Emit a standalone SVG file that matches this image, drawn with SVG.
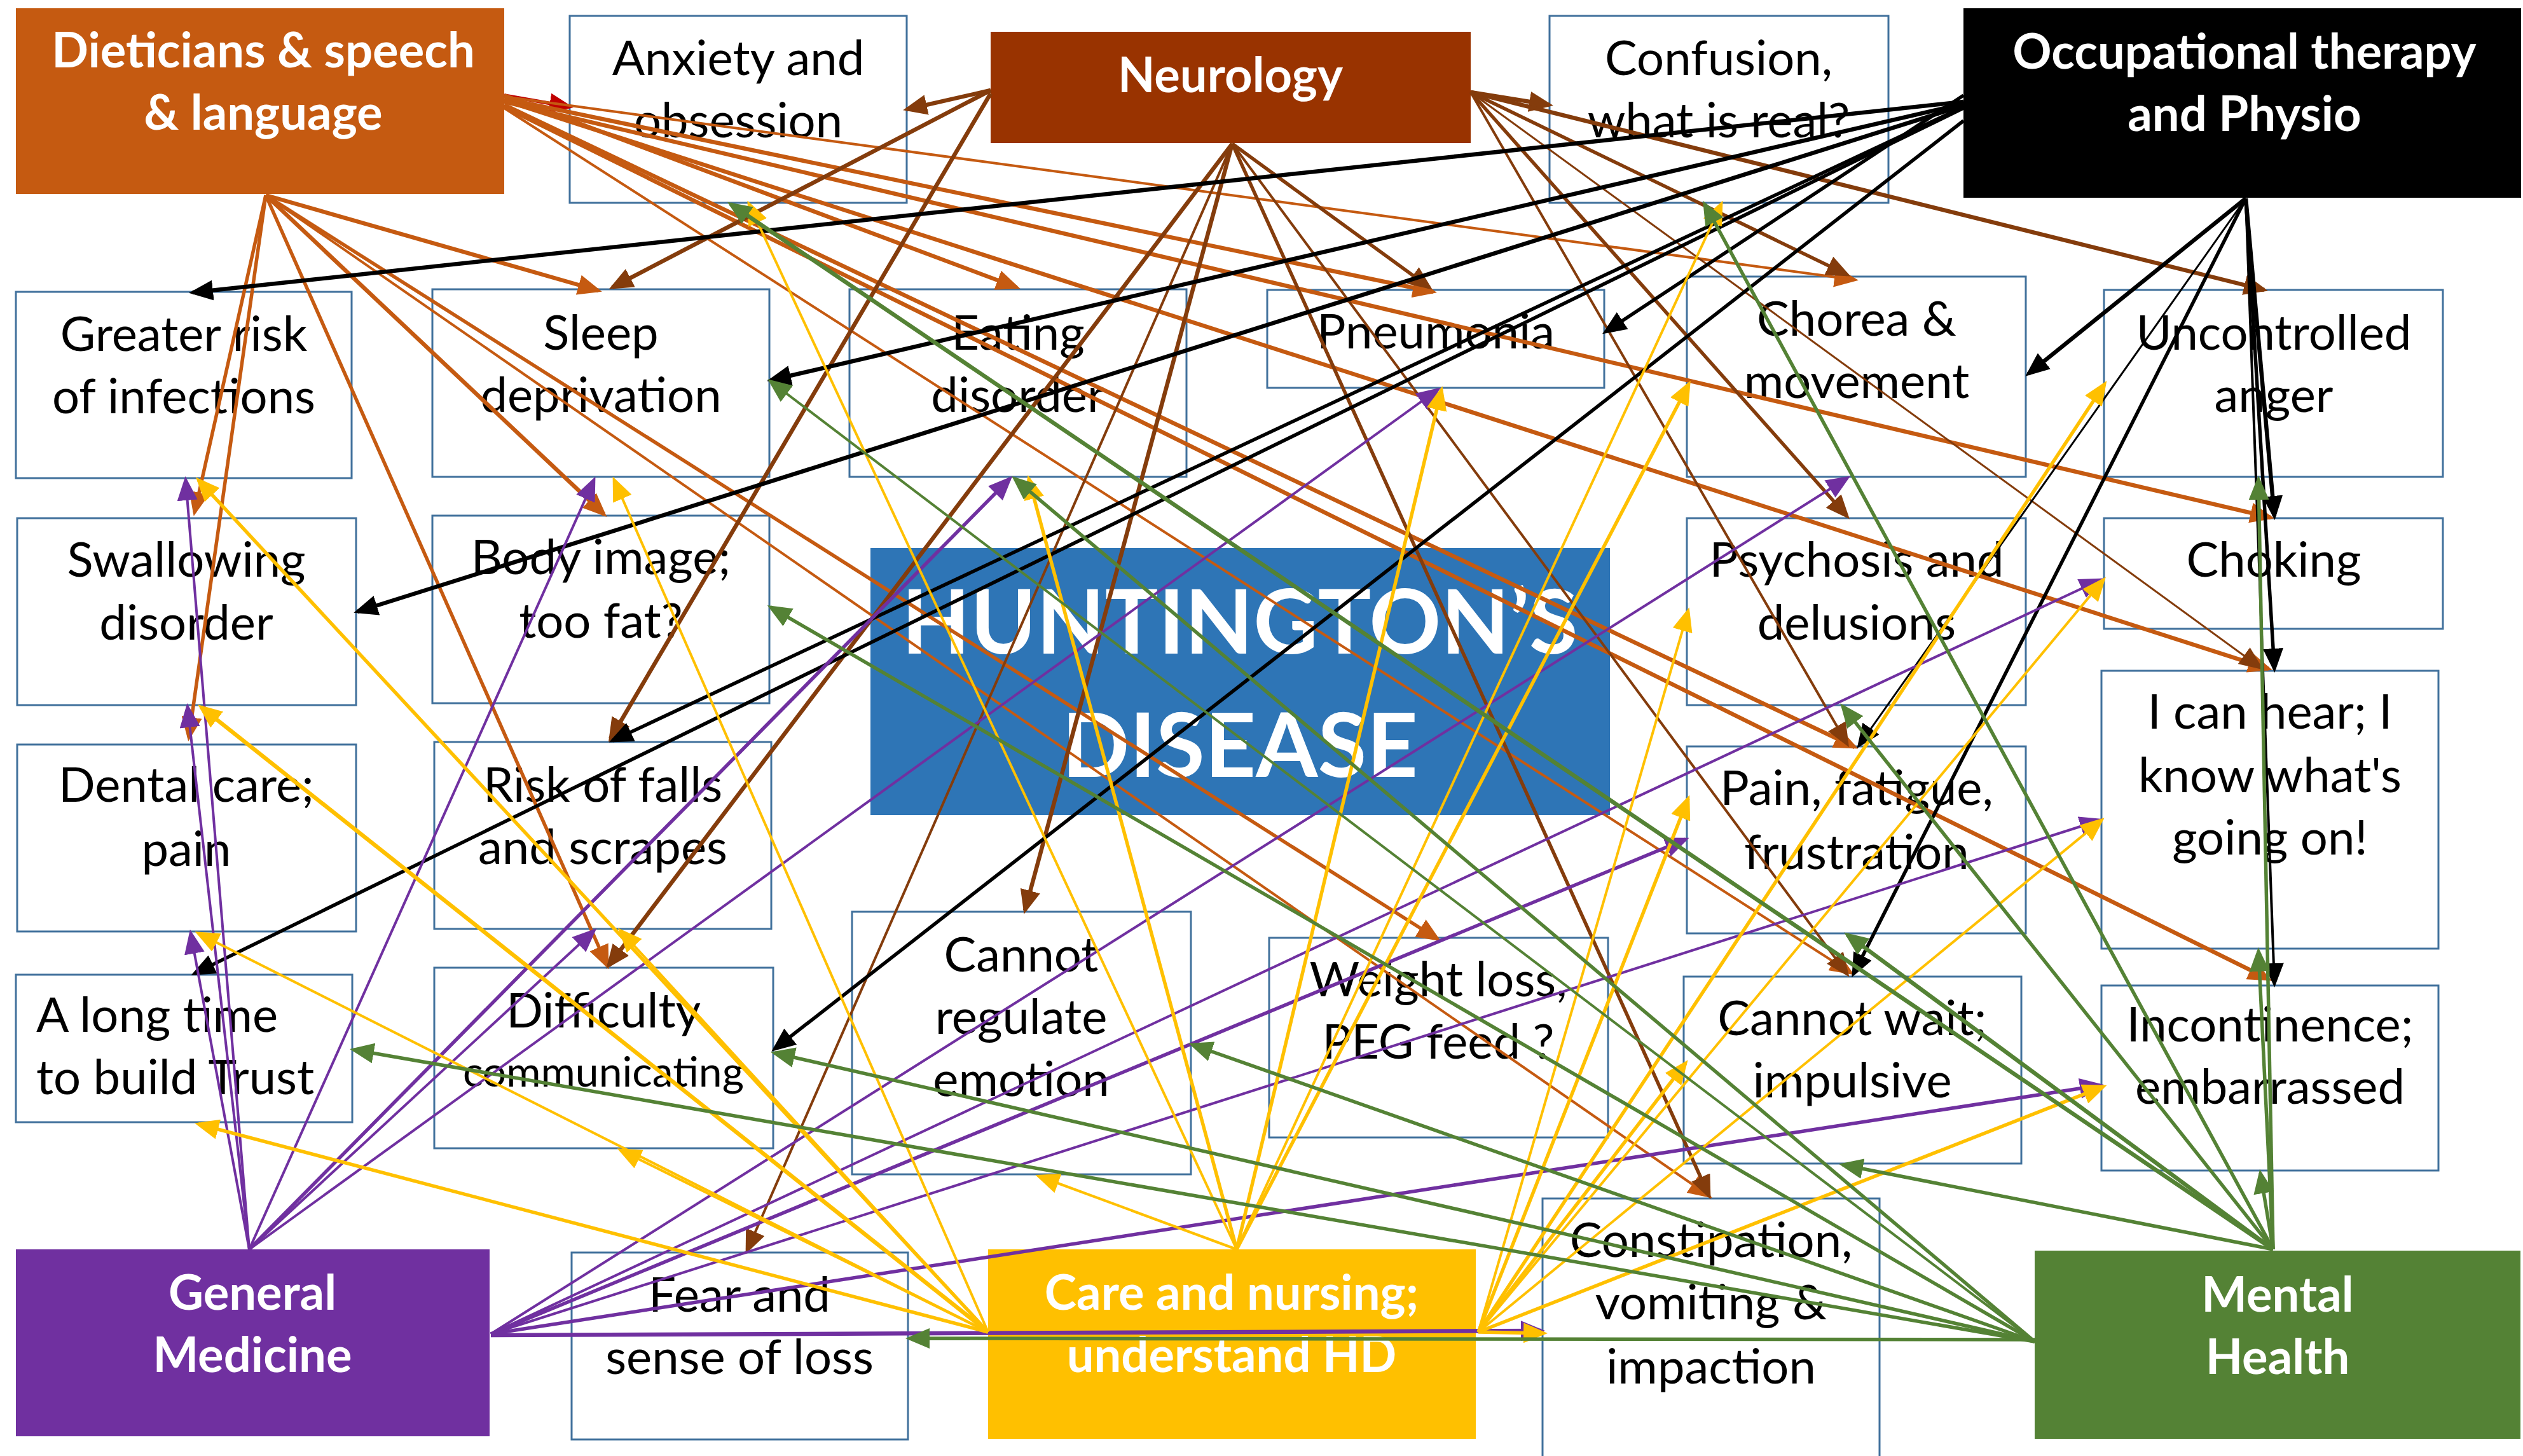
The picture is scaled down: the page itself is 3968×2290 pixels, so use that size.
<svg xmlns="http://www.w3.org/2000/svg" width="3968" height="2290" viewBox="0 0 3968 2290">
<style>
.box{fill:#fff;stroke:#41719C;stroke-width:3}
.t{font-family:Lato,"Open Sans",sans-serif;font-size:76px;fill:#000;text-anchor:middle}
.h{font-family:Lato,"Open Sans",sans-serif;font-size:76px;font-weight:bold;fill:#fff;text-anchor:middle}
.hd{font-family:Lato,"Open Sans",sans-serif;font-size:140px;font-weight:bold;fill:#fff;text-anchor:middle}
line{fill:none}
.d{stroke:#C55A11;marker-end:url(#md)}
.n{stroke:#843C0C;marker-end:url(#mn)}
.o{stroke:#000;marker-end:url(#mo)}
.g{stroke:#7030A0;marker-end:url(#mg)}
.c{stroke:#FFC000;marker-end:url(#mc)}
.m{stroke:#548235;marker-end:url(#mm)}
.r{stroke:#C00000;marker-end:url(#mr)}
.w2{stroke-width:3}.w3{stroke-width:4}.w4{stroke-width:5.5}.w5{stroke-width:6.5}
</style>
<defs>
<marker id="md" markerUnits="userSpaceOnUse" markerWidth="38" markerHeight="32" viewBox="0 0 38 32" refX="32" refY="16" orient="auto"><path d="M0,0L38,16L0,32z" fill="#C55A11"/></marker>
<marker id="mn" markerUnits="userSpaceOnUse" markerWidth="38" markerHeight="32" viewBox="0 0 38 32" refX="32" refY="16" orient="auto"><path d="M0,0L38,16L0,32z" fill="#843C0C"/></marker>
<marker id="mo" markerUnits="userSpaceOnUse" markerWidth="38" markerHeight="32" viewBox="0 0 38 32" refX="32" refY="16" orient="auto"><path d="M0,0L38,16L0,32z" fill="#000"/></marker>
<marker id="mg" markerUnits="userSpaceOnUse" markerWidth="38" markerHeight="32" viewBox="0 0 38 32" refX="32" refY="16" orient="auto"><path d="M0,0L38,16L0,32z" fill="#7030A0"/></marker>
<marker id="mc" markerUnits="userSpaceOnUse" markerWidth="38" markerHeight="32" viewBox="0 0 38 32" refX="32" refY="16" orient="auto"><path d="M0,0L38,16L0,32z" fill="#FFC000"/></marker>
<marker id="mm" markerUnits="userSpaceOnUse" markerWidth="38" markerHeight="32" viewBox="0 0 38 32" refX="32" refY="16" orient="auto"><path d="M0,0L38,16L0,32z" fill="#548235"/></marker>
<marker id="mr" markerUnits="userSpaceOnUse" markerWidth="38" markerHeight="32" viewBox="0 0 38 32" refX="32" refY="16" orient="auto"><path d="M0,0L38,16L0,32z" fill="#C00000"/></marker>
</defs>
<rect width="3968" height="2290" fill="#fff"/>
<g id="nodes">
<g id="dieticians"><rect x="25" y="13" width="768" height="292" fill="#C55A11"/><text class="h" x="414" y="106">Dieticians &amp; speech</text><text class="h" x="414" y="204">&amp; language</text></g>
<g id="anxiety"><rect class="box" x="896" y="25" width="530" height="294"/><text class="t" x="1161" y="118">Anxiety and</text><text class="t" x="1161" y="216">obsession</text></g>
<g id="neurology"><rect x="1558" y="50" width="755" height="175" fill="#993300"/><text class="h" x="1935" y="145">Neurology</text></g>
<g id="confusion"><rect class="box" x="2437" y="25" width="533" height="294"/><text class="t" x="2703" y="118">Confusion,</text><text class="t" x="2703" y="216">what is real?</text></g>
<g id="ot"><rect x="3088" y="13" width="877" height="298" fill="#000"/><text class="h" x="3530" y="108">Occupational therapy</text><text class="h" x="3530" y="206">and Physio</text></g>
<g id="infections"><rect class="box" x="25" y="459" width="528" height="293"/><text class="t" x="289" y="552">Greater risk</text><text class="t" x="289" y="650">of infections</text></g>
<g id="sleep"><rect class="box" x="680" y="455" width="530" height="295"/><text class="t" x="945" y="550">Sleep</text><text class="t" x="945" y="648">deprivation</text></g>
<g id="eating"><rect class="box" x="1336" y="455" width="530" height="295"/><text class="t" x="1601" y="550">Eating</text><text class="t" x="1601" y="648">disorder</text></g>
<g id="pneumonia"><rect class="box" x="1993" y="456" width="530" height="154"/><text class="t" x="2258" y="548">Pneumonia</text></g>
<g id="chorea"><rect class="box" x="2653" y="435" width="533" height="315"/><text class="t" x="2920" y="528">Chorea &amp;</text><text class="t" x="2920" y="626">movement</text></g>
<g id="anger"><rect class="box" x="3309" y="456" width="533" height="294"/><text class="t" x="3576" y="550">Uncontrolled</text><text class="t" x="3576" y="648">anger</text></g>
<g id="swallowing"><rect class="box" x="27" y="815" width="533" height="294"/><text class="t" x="293" y="907">Swallowing</text><text class="t" x="293" y="1006">disorder</text></g>
<g id="bodyimage"><rect class="box" x="680" y="811" width="530" height="295"/><text class="t" x="945" y="903">Body image;</text><text class="t" x="945" y="1003">too fat?</text></g>
<g id="hd"><rect x="1369" y="862" width="1163" height="420" fill="#2E75B6"/><text class="hd" x="1950" y="1028">HUNTINGTON’S</text><text class="hd" x="1950" y="1222">DISEASE</text></g>
<g id="psychosis"><rect class="box" x="2653" y="815" width="533" height="294"/><text class="t" x="2920" y="907">Psychosis and</text><text class="t" x="2920" y="1006">delusions</text></g>
<g id="choking"><rect class="box" x="3309" y="815" width="533" height="174"/><text class="t" x="3576" y="907">Choking</text></g>
<g id="dental"><rect class="box" x="27" y="1171" width="533" height="294"/><text class="t" x="293" y="1261">Dental care;</text><text class="t" x="293" y="1362">pain</text></g>
<g id="falls"><rect class="box" x="683" y="1167" width="530" height="294"/><text class="t" x="948" y="1261">Risk of falls</text><text class="t" x="948" y="1359">and scrapes</text></g>
<g id="pain"><rect class="box" x="2653" y="1174" width="533" height="294"/><text class="t" x="2920" y="1266">Pain, fatigue,</text><text class="t" x="2920" y="1367">frustration</text></g>
<g id="hear"><rect class="box" x="3305" y="1055" width="530" height="437"/><text class="t" x="3570" y="1146">I can hear; I</text><text class="t" x="3570" y="1246">know what's</text><text class="t" x="3570" y="1344">going on!</text></g>
<g id="trust"><rect class="box" x="25" y="1533" width="529" height="232"/><text class="t" x="57" y="1623" style="text-anchor:start">A long time</text><text class="t" x="57" y="1721" style="text-anchor:start">to build Trust</text></g>
<g id="communicating"><rect class="box" x="683" y="1522" width="533" height="284"/><text class="t" x="949" y="1616">Difficulty</text><text class="t" x="949" y="1709" style="font-size:66px">communicating</text></g>
<g id="emotion"><rect class="box" x="1340" y="1434" width="533" height="413"/><text class="t" x="1606" y="1528">Cannot</text><text class="t" x="1606" y="1626">regulate</text><text class="t" x="1606" y="1724">emotion</text></g>
<g id="weight"><rect class="box" x="1996" y="1475" width="533" height="314"/><text class="t" x="2262" y="1567">Weight loss,</text><text class="t" x="2262" y="1665">PEG feed ?</text></g>
<g id="impulsive"><rect class="box" x="2648" y="1536" width="531" height="294"/><text class="t" x="2913" y="1628">Cannot wait;</text><text class="t" x="2913" y="1726">impulsive</text></g>
<g id="incontinence"><rect class="box" x="3305" y="1550" width="530" height="291"/><text class="t" x="3570" y="1638">Incontinence;</text><text class="t" x="3570" y="1736">embarrassed</text></g>
<g id="genmed"><rect x="25" y="1965" width="745" height="294" fill="#7030A0"/><text class="h" x="397" y="2060">General</text><text class="h" x="397" y="2158">Medicine</text></g>
<g id="fear"><rect class="box" x="899" y="1970" width="529" height="294"/><text class="t" x="1163" y="2063">Fear and</text><text class="t" x="1163" y="2161">sense of loss</text></g>
<g id="care"><rect x="1554" y="1965" width="767" height="298" fill="#FFC000"/><text class="h" x="1937" y="2060">Care and nursing;</text><text class="h" x="1937" y="2158">understand HD</text></g>
<g id="constipation"><rect class="box" x="2426" y="1885" width="530" height="420"/><text class="t" x="2691" y="1977">Constipation,</text><text class="t" x="2691" y="2075">vomiting &amp;</text><text class="t" x="2691" y="2176">impaction</text></g>
<g id="mental"><rect x="3200" y="1967" width="764" height="296" fill="#548235"/><text class="h" x="3582" y="2063">Mental</text><text class="h" x="3582" y="2161">Health</text></g>
</g>
<g id="connectors">
<line class="r w4" x1="793" y1="150" x2="896" y2="168"/>
<line class="d w5" x1="793" y1="150" x2="1599" y2="452"/>
<line class="d w5" x1="793" y1="155" x2="2254" y2="459"/>
<line class="d w3" x1="793" y1="152" x2="2917" y2="440"/>
<line class="d w5" x1="793" y1="160" x2="3571" y2="814"/>
<line class="d w5" x1="793" y1="158" x2="3568" y2="1052"/>
<line class="d w5" x1="793" y1="165" x2="2917" y2="1175"/>
<line class="d w5" x1="793" y1="168" x2="3568" y2="1540"/>
<line class="d w3" x1="793" y1="170" x2="2911" y2="1530"/>
<line class="d w4" x1="418" y1="307" x2="306" y2="806"/>
<line class="d w4" x1="418" y1="307" x2="297" y2="1160"/>
<line class="d w5" x1="418" y1="307" x2="941" y2="457"/>
<line class="d w5" x1="418" y1="307" x2="950" y2="809"/>
<line class="d w4" x1="418" y1="307" x2="955" y2="1519"/>
<line class="d w4" x1="418" y1="307" x2="2261" y2="1477"/>
<line class="d w3" x1="418" y1="307" x2="2688" y2="1881"/>
<line class="n w5" x1="1558" y1="142" x2="1426" y2="172"/>
<line class="n w5" x1="1558" y1="142" x2="963" y2="452"/>
<line class="n w5" x1="1558" y1="147" x2="960" y2="1162"/>
<line class="n w5" x1="1938" y1="226" x2="957" y2="1519"/>
<line class="n w3" x1="1938" y1="226" x2="1175" y2="1967"/>
<line class="n w5" x1="1938" y1="226" x2="1612" y2="1432"/>
<line class="n w4" x1="1938" y1="226" x2="2248" y2="452"/>
<line class="n w4" x1="1938" y1="226" x2="2688" y2="1881"/>
<line class="n w3" x1="1938" y1="226" x2="2905" y2="1532"/>
<line class="n w5" x1="2313" y1="145" x2="2437" y2="165"/>
<line class="n w5" x1="2313" y1="145" x2="3561" y2="456"/>
<line class="n w4" x1="2313" y1="145" x2="2905" y2="432"/>
<line class="n w4" x1="2313" y1="145" x2="2905" y2="812"/>
<line class="n w3" x1="2313" y1="145" x2="2905" y2="1170"/>
<line class="n w2" x1="2313" y1="145" x2="3555" y2="1050"/>
<line class="o w5" x1="3088" y1="160" x2="303" y2="460"/>
<line class="o w5" x1="3088" y1="163" x2="1212" y2="598"/>
<line class="o w5" x1="3088" y1="166" x2="562" y2="962"/>
<line class="o w4" x1="3088" y1="168" x2="963" y2="1165"/>
<line class="o w4" x1="3088" y1="170" x2="306" y2="1531"/>
<line class="o w4" x1="3088" y1="150" x2="2525" y2="522"/>
<line class="o w4" x1="3088" y1="190" x2="1218" y2="1650"/>
<line class="o w5" x1="3532" y1="312" x2="3190" y2="588"/>
<line class="o w2" x1="3532" y1="312" x2="2924" y2="1172"/>
<line class="o w4" x1="3532" y1="312" x2="2915" y2="1532"/>
<line class="o w5" x1="3532" y1="312" x2="3577" y2="812"/>
<line class="o w4" x1="3532" y1="312" x2="3577" y2="1052"/>
<line class="o w3" x1="3532" y1="312" x2="3577" y2="1547"/>
<line class="g w3" x1="392" y1="1965" x2="292" y2="755"/>
<line class="g w3" x1="392" y1="1965" x2="295" y2="1112"/>
<line class="g w3" x1="392" y1="1965" x2="300" y2="1468"/>
<line class="g w3" x1="392" y1="1965" x2="934" y2="755"/>
<line class="g w3" x1="392" y1="1965" x2="934" y2="1464"/>
<line class="g w4" x1="392" y1="1965" x2="1588" y2="753"/>
<line class="g w3" x1="392" y1="1965" x2="2261" y2="613"/>
<line class="g w3" x1="772" y1="2098" x2="2905" y2="752"/>
<line class="g w3" x1="772" y1="2098" x2="3303" y2="912"/>
<line class="g w3" x1="772" y1="2098" x2="3303" y2="1290"/>
<line class="g w4" x1="772" y1="2098" x2="2651" y2="1320"/>
<line class="g w4" x1="772" y1="2098" x2="3303" y2="1707"/>
<line class="g w5" x1="772" y1="2100" x2="2424" y2="2093"/>
<line class="c w4" x1="1554" y1="2095" x2="312" y2="755"/>
<line class="c w5" x1="1554" y1="2095" x2="316" y2="1112"/>
<line class="c w3" x1="1554" y1="2095" x2="312" y2="1468"/>
<line class="c w4" x1="1554" y1="2095" x2="312" y2="1768"/>
<line class="c w3" x1="1554" y1="2095" x2="966" y2="755"/>
<line class="c w3" x1="1554" y1="2095" x2="976" y2="1464"/>
<line class="c w3" x1="1554" y1="2095" x2="976" y2="1809"/>
<line class="c w3" x1="1945" y1="1965" x2="1178" y2="321"/>
<line class="c w4" x1="1945" y1="1965" x2="1618" y2="753"/>
<line class="c w4" x1="1945" y1="1965" x2="2267" y2="613"/>
<line class="c w3" x1="1945" y1="1965" x2="1634" y2="1850"/>
<line class="c w3" x1="1945" y1="1965" x2="2707" y2="321"/>
<line class="c w4" x1="1945" y1="1965" x2="2656" y2="604"/>
<line class="c w4" x1="2325" y1="2095" x2="3310" y2="604"/>
<line class="c w3" x1="2325" y1="2095" x2="2655" y2="961"/>
<line class="c w4" x1="2325" y1="2095" x2="2655" y2="1256"/>
<line class="c w3" x1="2325" y1="2095" x2="3308" y2="912"/>
<line class="c w3" x1="2325" y1="2095" x2="3305" y2="1290"/>
<line class="c w4" x1="2325" y1="2095" x2="2651" y2="1672"/>
<line class="c w4" x1="2325" y1="2095" x2="3308" y2="1709"/>
<line class="c w4" x1="2325" y1="2095" x2="2428" y2="2097"/>
<line class="m w4" x1="3575" y1="1965" x2="3552" y2="754"/>
<line class="m w4" x1="3575" y1="1965" x2="3552" y2="1496"/>
<line class="m w4" x1="3575" y1="1965" x2="3555" y2="1845"/>
<line class="m w4" x1="3575" y1="1965" x2="2681" y2="321"/>
<line class="m w4" x1="3575" y1="1965" x2="2898" y2="1111"/>
<line class="m w5" x1="3575" y1="1965" x2="2905" y2="1470"/>
<line class="m w4" x1="3575" y1="1965" x2="2898" y2="1832"/>
<line class="m w5" x1="3575" y1="1965" x2="1149" y2="321"/>
<line class="m w3" x1="3200" y1="2110" x2="1212" y2="600"/>
<line class="m w4" x1="3200" y1="2110" x2="1212" y2="955"/>
<line class="m w4" x1="3200" y1="2110" x2="1596" y2="753"/>
<line class="m w4" x1="3200" y1="2110" x2="556" y2="1651"/>
<line class="m w4" x1="3200" y1="2110" x2="1218" y2="1656"/>
<line class="m w4" x1="3200" y1="2110" x2="1875" y2="1643"/>
<line class="m w4" x1="3200" y1="2107" x2="1430" y2="2105"/>
</g>
</svg>
